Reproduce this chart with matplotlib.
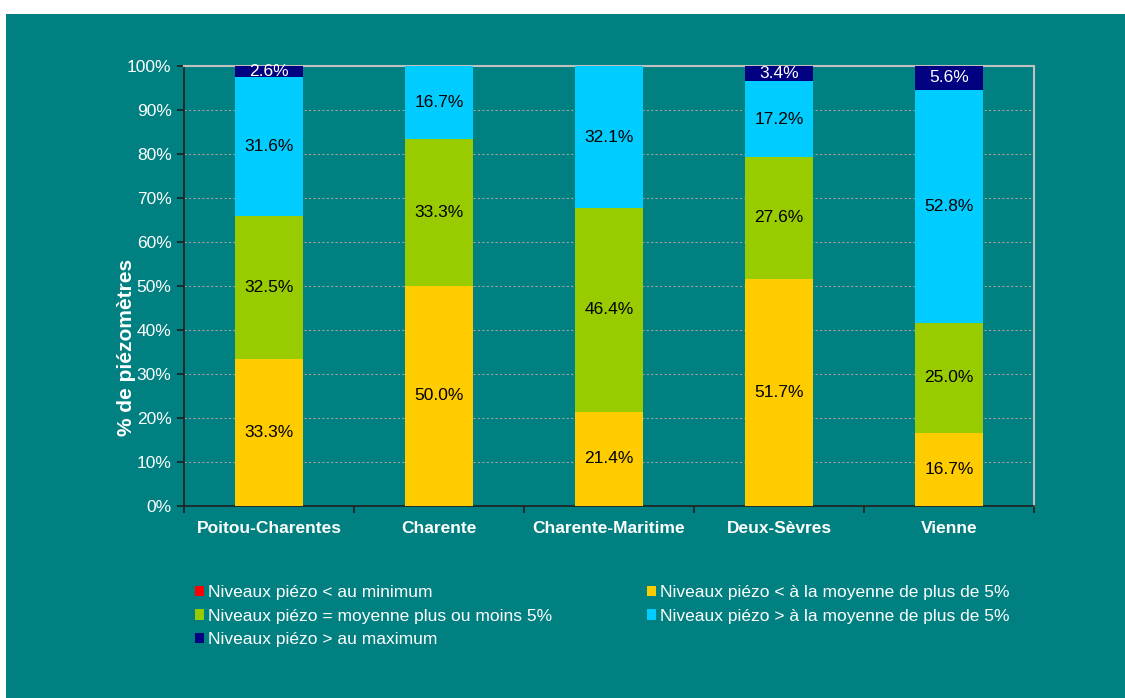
import numpy as np
import matplotlib.pyplot as plt
from matplotlib.patches import Rectangle

plt.rcParams['font.family'] = ['Liberation Sans', 'DejaVu Sans']

# data (percent of piezometers)
zones = ['Poitou-Charentes', 'Charente', 'Charente-Maritime', 'Deux-Sèvres', 'Vienne']
au_minimum = [0, 0, 0, 0, 0]
sous_moyenne = [33.3, 50.0, 21.4, 51.7, 16.7]
moyenne = [32.5, 33.3, 46.4, 27.6, 25.0]
sur_moyenne = [31.6, 16.7, 32.1, 17.2, 52.8]
au_maximum = [2.6, 0, 0, 3.4, 5.6]

series = [
    ('Niveaux piézo < au minimum', au_minimum, '#ff0000', 'black'),
    ('Niveaux piézo < à la moyenne de plus de 5%', sous_moyenne, '#ffcc00', 'black'),
    ('Niveaux piézo = moyenne plus ou moins 5%', moyenne, '#99cc00', 'black'),
    ('Niveaux piézo > à la moyenne de plus de 5%', sur_moyenne, '#00ccff', 'black'),
    ('Niveaux piézo > au maximum', au_maximum, '#000080', 'white'),
]

teal = '#008080'
fig = plt.figure(figsize=(11.25, 6.98), dpi=100, facecolor='white')
fig.patches.append(Rectangle((6 / 1125, 0), 1 - 6 / 1125, 1 - 14 / 698,
                             transform=fig.transFigure, facecolor=teal,
                             edgecolor='none', zorder=-10))

ax = fig.add_axes([184 / 1125, 1 - 506 / 698, 850 / 1125, 440 / 698])
ax.set_facecolor(teal)

x = np.arange(len(zones))
bottom = np.zeros(len(zones))
for name, vals, col, txtcol in series:
    vals = np.array(vals, dtype=float)
    ax.bar(x, vals, 0.4, bottom=bottom, color=col, linewidth=0, zorder=3)
    for xi, v, b in zip(x, vals, bottom):
        if v > 0:
            ax.text(xi, b + v / 2, f'{v:.1f}%', ha='center', va='center',
                    fontsize=12.5, color=txtcol, zorder=4)
    bottom += vals

ax.set_xlim(-0.5, len(zones) - 0.5)
ax.set_ylim(0, 100)
ax.set_yticks(np.arange(0, 101, 10))
ax.set_yticklabels([f'{v}%' for v in range(0, 101, 10)], fontsize=12.5, color='white')
ax.yaxis.grid(True, color='#a0a0a0', linestyle=(0, (2, 2)), linewidth=0.8, zorder=1)

ax.set_xticks(x)
ax.set_xticklabels(zones, fontsize=12.5, fontweight='bold', color='white')
ax.set_xticks(np.arange(-0.5, len(zones), 1), minor=True)
ax.tick_params(axis='x', which='major', length=0, pad=11)
ax.tick_params(axis='x', which='minor', length=5, color='#202020', width=1.2)
ax.tick_params(axis='y', length=5, color='#202020', width=1.2, pad=4)

for s in ['left', 'bottom']:
    ax.spines[s].set_color('#202020')
    ax.spines[s].set_linewidth(1.2)
for s in ['top', 'right']:
    ax.spines[s].set_color('#c0c0c0')
    ax.spines[s].set_linewidth(1.5)

ax.set_ylabel('% de piézomètres', fontsize=15, fontweight='bold', color='white')
ax.yaxis.set_label_coords(-0.057, 0.36)

order = ['Niveaux piézo < au minimum',
         'Niveaux piézo = moyenne plus ou moins 5%',
         'Niveaux piézo > au maximum',
         'Niveaux piézo < à la moyenne de plus de 5%',
         'Niveaux piézo > à la moyenne de plus de 5%']
colors = {s[0]: s[2] for s in series}
leg_handles = [Rectangle((0, 0), 1, 1, facecolor=colors[n]) for n in order]
leg = fig.legend(leg_handles, order, ncol=2, loc='upper left',
                 bbox_to_anchor=(188 / 1125, 1 - 578 / 698), frameon=False,
                 fontsize=12.5, handlelength=0.55, handleheight=0.55, handletextpad=0.2,
                 columnspacing=5.45, labelspacing=0.5, borderaxespad=0)
for t in leg.get_texts():
    t.set_color('white')

fig.savefig('out.png', dpi=100, facecolor='white')
